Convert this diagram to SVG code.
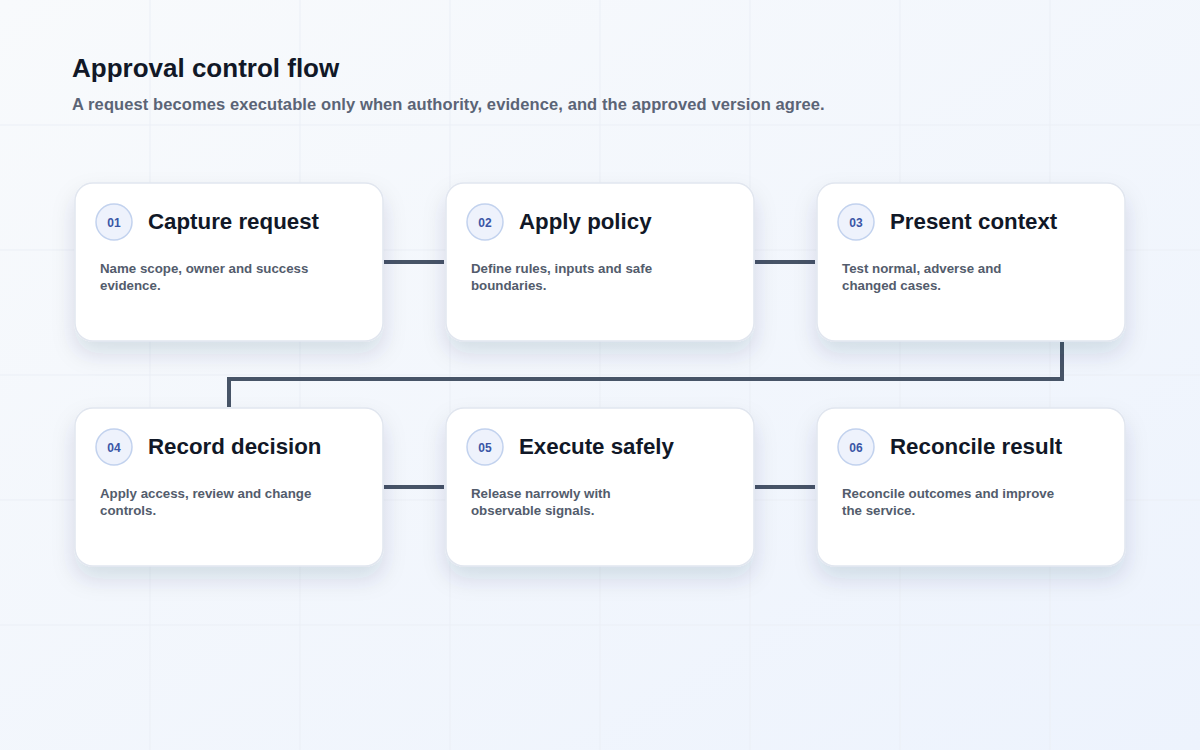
<svg xmlns="http://www.w3.org/2000/svg" width="1200" height="750" viewBox="0 0 1200 750">
<defs>
<linearGradient id="bg" x1="0" y1="0" x2="1" y2="1">
<stop offset="0" stop-color="#f8fafc"/>
<stop offset="1" stop-color="#edf3fd"/>
</linearGradient>
<filter id="sh" x="-20%" y="-20%" width="140%" height="160%">
<feDropShadow dx="0" dy="12" stdDeviation="11" flood-color="#1e2a5a" flood-opacity="0.13"/>
</filter>
<style>
.card{fill:#ffffff;stroke:#e1e6ef;stroke-width:1.5;filter:url(#sh)}
.badge{fill:#eef2fc;stroke:#c2d2ee;stroke-width:1.5}
.num{font-family:"Liberation Sans",Arial,sans-serif;font-size:12px;font-weight:700;fill:#3a56a6;text-anchor:middle}
.ttl{font-family:"Liberation Sans",Arial,sans-serif;font-size:22.3px;font-weight:700;fill:#111827}
.desc{font-family:"Liberation Sans",Arial,sans-serif;font-size:13.3px;font-weight:700;fill:#535c6c}
.grid{stroke:#ebeff6;stroke-width:1}
.conn{fill:none;stroke:#475467;stroke-width:4}
</style>
</defs>
<rect width="1200" height="750" fill="url(#bg)"/>
<g id="grid">
<line class="grid" x1="150" y1="0" x2="150" y2="750"/>
<line class="grid" x1="300" y1="0" x2="300" y2="750"/>
<line class="grid" x1="450" y1="0" x2="450" y2="750"/>
<line class="grid" x1="600" y1="0" x2="600" y2="750"/>
<line class="grid" x1="750" y1="0" x2="750" y2="750"/>
<line class="grid" x1="900" y1="0" x2="900" y2="750"/>
<line class="grid" x1="1050" y1="0" x2="1050" y2="750"/>
<line class="grid" x1="0" y1="125" x2="1200" y2="125"/>
<line class="grid" x1="0" y1="250" x2="1200" y2="250"/>
<line class="grid" x1="0" y1="375" x2="1200" y2="375"/>
<line class="grid" x1="0" y1="500" x2="1200" y2="500"/>
<line class="grid" x1="0" y1="625" x2="1200" y2="625"/>
</g>
<g id="header">
<text x="72" y="77" font-family="Liberation Sans, Arial, sans-serif" font-size="26" font-weight="700" fill="#111827">Approval control flow</text>
<text x="72" y="110" font-family="Liberation Sans, Arial, sans-serif" font-size="16.5" font-weight="700" letter-spacing="0.1" fill="#5b6476">A request becomes executable only when authority, evidence, and the approved version agree.</text>
</g>
<g id="connectors">
<line class="conn" x1="384" y1="262" x2="444" y2="262"/>
<line class="conn" x1="755" y1="262" x2="815" y2="262"/>
<path class="conn" d="M1062 342 V379 H229 V407"/>
<line class="conn" x1="384" y1="487" x2="444" y2="487"/>
<line class="conn" x1="755" y1="487" x2="815" y2="487"/>
</g>
<g id="node1">
<rect class="card" x="75" y="183" width="308" height="158" rx="18"/>
<circle class="badge" cx="114" cy="222" r="18"/>
<text class="num" x="114" y="226.5">01</text>
<text class="ttl" x="148" y="229">Capture request</text>
<text class="desc" x="100" y="273">Name scope, owner and success</text>
<text class="desc" x="100" y="290">evidence.</text>
</g>
<g id="node2">
<rect class="card" x="446" y="183" width="308" height="158" rx="18"/>
<circle class="badge" cx="485" cy="222" r="18"/>
<text class="num" x="485" y="226.5">02</text>
<text class="ttl" x="519" y="229">Apply policy</text>
<text class="desc" x="471" y="273">Define rules, inputs and safe</text>
<text class="desc" x="471" y="290">boundaries.</text>
</g>
<g id="node3">
<rect class="card" x="817" y="183" width="308" height="158" rx="18"/>
<circle class="badge" cx="856" cy="222" r="18"/>
<text class="num" x="856" y="226.5">03</text>
<text class="ttl" x="890" y="229">Present context</text>
<text class="desc" x="842" y="273">Test normal, adverse and</text>
<text class="desc" x="842" y="290">changed cases.</text>
</g>
<g id="node4">
<rect class="card" x="75" y="408" width="308" height="158" rx="18"/>
<circle class="badge" cx="114" cy="447" r="18"/>
<text class="num" x="114" y="451.5">04</text>
<text class="ttl" x="148" y="454">Record decision</text>
<text class="desc" x="100" y="498">Apply access, review and change</text>
<text class="desc" x="100" y="515">controls.</text>
</g>
<g id="node5">
<rect class="card" x="446" y="408" width="308" height="158" rx="18"/>
<circle class="badge" cx="485" cy="447" r="18"/>
<text class="num" x="485" y="451.5">05</text>
<text class="ttl" x="519" y="454">Execute safely</text>
<text class="desc" x="471" y="498">Release narrowly with</text>
<text class="desc" x="471" y="515">observable signals.</text>
</g>
<g id="node6">
<rect class="card" x="817" y="408" width="308" height="158" rx="18"/>
<circle class="badge" cx="856" cy="447" r="18"/>
<text class="num" x="856" y="451.5">06</text>
<text class="ttl" x="890" y="454">Reconcile result</text>
<text class="desc" x="842" y="498">Reconcile outcomes and improve</text>
<text class="desc" x="842" y="515">the service.</text>
</g>
</svg>
